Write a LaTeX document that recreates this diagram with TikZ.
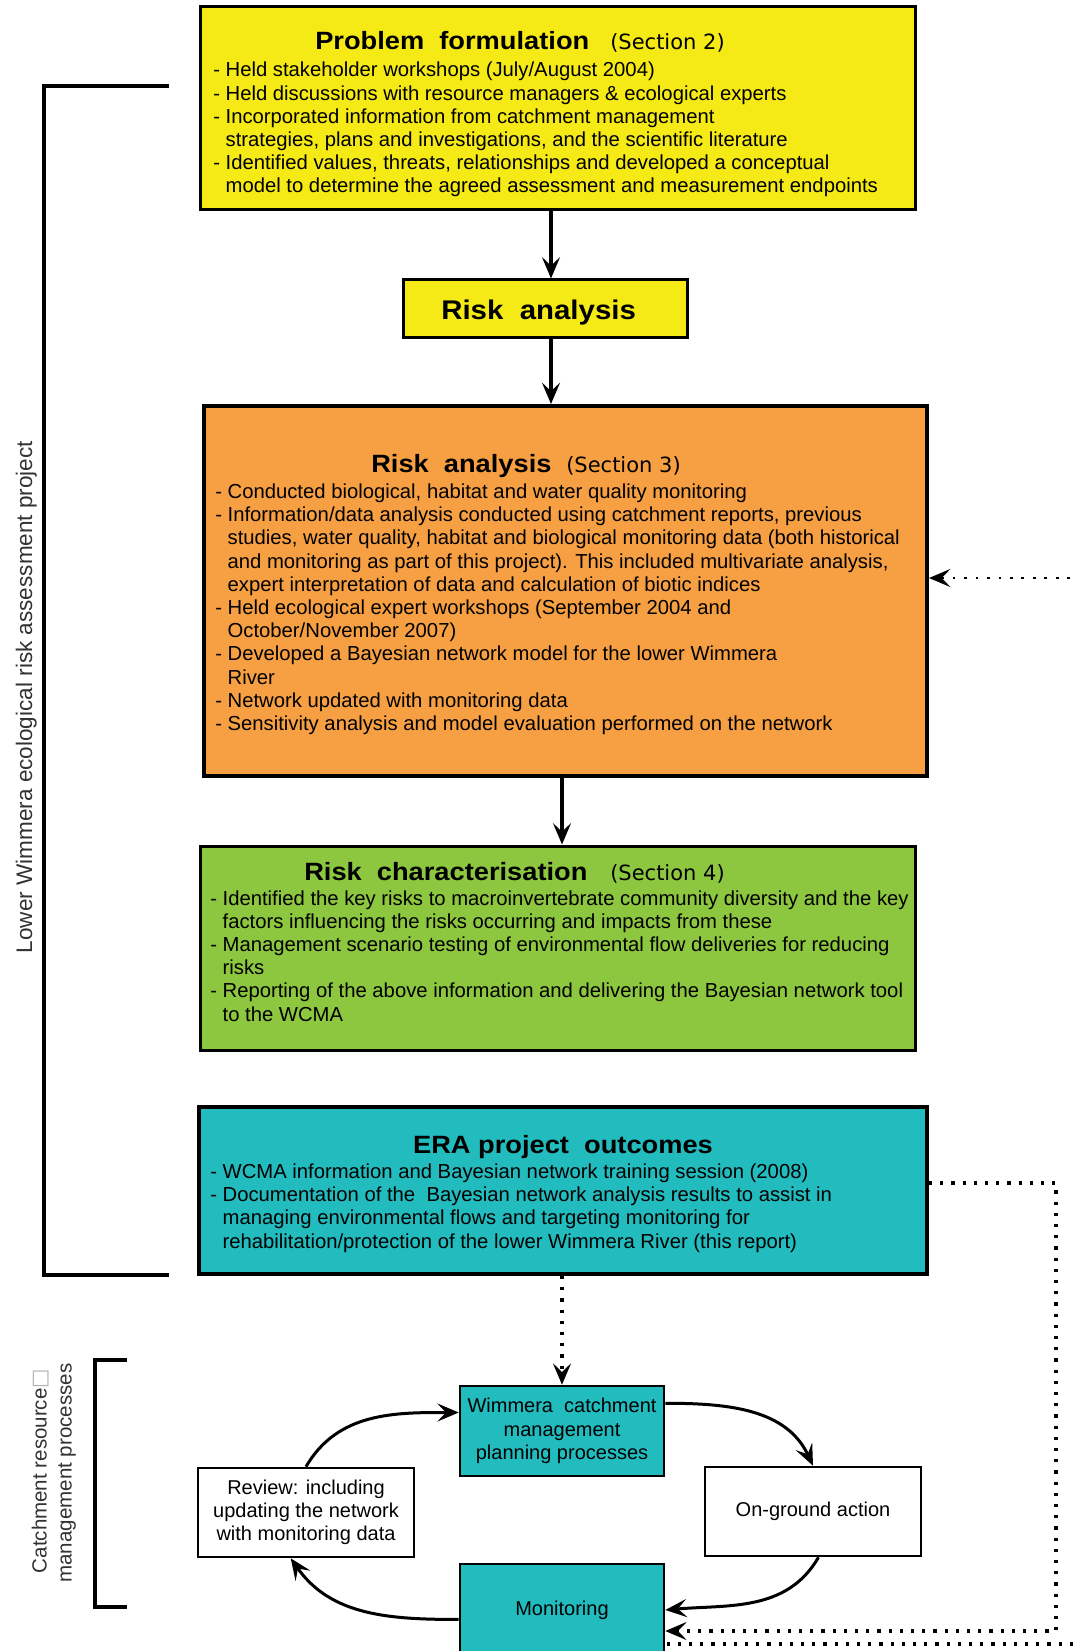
\documentclass[tikz,border=0pt]{standalone}
\usepackage{fontspec}
\setmainfont{Liberation Sans}
\newfontfamily\hdfont{Liberation Sans}[FakeStretch=1.09]
\newfontfamily\secfont{DejaVu Sans}
\usetikzlibrary{arrows.meta,fit,calc}

\definecolor{pfyellow}{RGB}{245,234,22}
\definecolor{raorange}{RGB}{247,160,67}
\definecolor{rcgreen}{RGB}{141,198,63}
\definecolor{erateal}{RGB}{34,187,190}
\definecolor{labelgrey}{RGB}{50,50,50}

\newcommand\bodyfont{\fontsize{15.2pt}{17.4pt}\selectfont}
\newcommand\headfont{\hdfont\bfseries\fontsize{18.75pt}{22pt}\selectfont}
\newcommand\bigheadfont{\hdfont\bfseries\fontsize{20.25pt}{24pt}\selectfont}
\newcommand\secsize{\secfont\fontsize{15.75pt}{18pt}\selectfont}
\newcommand\ind{\phantom{- }}

\begin{document}
\begin{tikzpicture}[x=0.75pt,y=-0.75pt,
  box/.style={draw=black, line width=2.25pt, inner sep=0pt},
  thickbox/.style={draw=black, line width=3pt, inner sep=0pt},
  cyclebox/.style={draw=black, line width=1.9pt, inner sep=0pt},
  heading/.style={font=\headfont, inner sep=0pt},
  section/.style={font=\secsize, inner sep=0pt},
  % multi-line blocks are anchored at the baseline of their last line
  bodytext/.style={font=\bodyfont, align=left, inner sep=0pt, anchor=base west},
  cycletext/.style={font=\fontsize{15pt}{17.4pt}\selectfont, align=center, inner sep=0pt},
  sidelabel/.style={font=\fontsize{16.9pt}{20pt}\selectfont, text=labelgrey, rotate=90, anchor=base, inner sep=0pt},
  sidelabelsmall/.style={font=\fontsize{15.4pt}{18pt}\selectfont, text=labelgrey, rotate=90, anchor=base, inner sep=0pt},
  tip/.style={-{Stealth[length=16pt, width=13.5pt, inset=6.5pt]}},
  flow/.style={tip, line width=2.6pt},
  loop/.style={tip, line width=2.25pt},
  dots/.style={line width=2.4pt, dash pattern=on 2.4pt off 6pt},
  finedots/.style={line width=2pt, dash pattern=on 2pt off 6.6pt},
]
\useasboundingbox (0,0) rectangle (1073,1651);
\fill[white] (0,0) rectangle (1073,1651);

% ---------- main assessment stages ----------
\node[box, fill=pfyellow, fit={(200,7) (915,210)}] (pf) {};
\node[heading, anchor=base west] (pftitle) at (315,49.5) {Problem\ \ formulation};
\node[section, anchor=base west] (pfsec) at (610,49.5) {(Section 2)};
\node[bodytext] (pftext) at (213,193) {%
- Held stakeholder workshops (July/August 2004)\\
- Held discussions with resource managers \& ecological experts\\
- Incorporated information from catchment management\\
\ind strategies, plans and investigations, and the scientific literature\\
- Identified values, threats, relationships and developed a conceptual\\
\ind model to determine the agreed assessment and measurement endpoints};

\node[box, fill=pfyellow, fit={(403,280) (687,337)}] (ra1) {};
\node[heading, font=\bigheadfont, anchor=base west] (ra1title) at (441,320) {Risk\ \ analysis};

\node[thickbox, fill=raorange, fit={(204,406) (927,776)}] (ra) {};
\node[heading, anchor=base west] (ratitle) at (371,472) {Risk\ \ analysis};
\node[section, anchor=base west] (rasec) at (566,472) {(Section 3)};
\node[bodytext] (ratext) at (215,730.5) {%
- Conducted biological, habitat and water quality monitoring\\
- Information/data analysis conducted using catchment reports, previous\\
\ind studies, water quality, habitat and biological monitoring data (both historical\\
\ind and monitoring as part of this project). This included multivariate analysis,\\
\ind expert interpretation of data and calculation of biotic indices\\
- Held ecological expert workshops (September 2004 and\\
\ind October/November 2007)\\
- Developed a Bayesian network model for the lower Wimmera\\
\ind River\\
- Network updated with monitoring data\\
- Sensitivity analysis and model evaluation performed on the network};

\node[box, fill=rcgreen, fit={(200,846) (915,1050)}] (rc) {};
\node[heading, anchor=base west] (rctitle) at (304,880) {Risk\ \ characterisation};
\node[section, anchor=base west] (rcsec) at (610,880) {(Section 4)};
\node[bodytext] (rctext) at (210,1021) {%
- Identified the key risks to macroinvertebrate community diversity and the key\\
\ind factors influencing the risks occurring and impacts from these\\
- Management scenario testing of environmental flow deliveries for reducing\\
\ind risks\\
- Reporting of the above information and delivering the Bayesian network tool\\
\ind to the WCMA};

\node[thickbox, fill=erateal, fit={(199,1107) (927,1274)}] (era) {};
\node[heading, anchor=base] (eratitle) at (563,1153) {ERA project\ \ outcomes};
\node[bodytext] (eratext) at (210,1248) {%
- WCMA information and Bayesian network training session (2008)\\
- Documentation of the\ \ Bayesian network analysis results to assist in\\
\ind managing environmental flows and targeting monitoring for\\
\ind rehabilitation/protection of the lower Wimmera River (this report)};

% ---------- management cycle ----------
\node[cyclebox, fill=erateal, fit={(460,1386) (664,1476)}] (wim) {};
\node[cycletext] (wimtext) at (wim.center) {Wimmera\ \ catchment\\management\\planning processes};
\node[cyclebox, fill=white, fit={(198,1468) (414,1557)}] (rev) {};
\node[cycletext] (revtext) at (rev.center) {Review: including\\updating the network\\with monitoring data};
\node[cyclebox, fill=white, fit={(705,1467) (921,1556)}] (og) {};
\node[cycletext] (ogtext) at (og.center) {On-ground action};
\node[cyclebox, fill=erateal, fit={(460,1564) (664,1656)}] (mon) {};
\node[cycletext] (montext) at (562,1610) {Monitoring};

% ---------- flow arrows ----------
\draw[flow] (pf.south -| ra1.north) ++(4.5pt,0) -- ([xshift=4.5pt]ra1.north);
\draw[flow] ([xshift=4.5pt]ra1.south) -- ([xshift=4.5pt]ra1.south |- ra.north);
\draw[flow] (ra.south -| wim.north) -- (rc.north -| wim.north);
\draw[dots, tip] (era.south -| wim.north) -- (wim.north);

\draw[loop] (rev.north) to[out=60, in=180] ($(wim.west)!0.4!(wim.north west)$);
\draw[loop] ($(wim.east)!0.6!(wim.north east)$) to[out=0, in=115] (og.north);
\draw[loop] ($(og.south)!0.05!(og.south east)$) to[out=-120, in=5] (mon.east);
\draw[loop] ($(mon.west)!0.2!(mon.south west)$) to[out=180, in=-55] ($(rev.south)!0.14!(rev.south west)$);

% ---------- feedback links ----------
\coordinate (fbin) at (1070,578);
\draw[finedots, tip] (fbin) -- (fbin -| ra.east);
\coordinate (fbtop) at (1056,1183);
\coordinate (fbbot) at (1056,1631);
\draw[dots, tip] (era.east |- fbtop) -- (fbtop) -- (fbbot) -- (fbbot -| mon.east);
\coordinate (fbout) at (1073,1644);
\draw[dots] (fbout) -- (fbout -| mon.east);

% ---------- side brackets ----------
\draw[line width=2.4pt] (168.5,86) -- (44,86) -- (44,1275) -- (168.5,1275);
\node[sidelabel] (projlabel) at (32,697) {Lower Wimmera ecological risk assessment project};
\draw[line width=3pt] (127,1360) -- (95,1360) -- (95,1607) -- (127,1607);
\node[sidelabelsmall] (cmlabel1) at (46.5,1471) {Catchment resource{\secfont\color{black!30}□}};
\node[sidelabelsmall] (cmlabel2) at (71.7,1473) {management processes};
\end{tikzpicture}
\end{document}
